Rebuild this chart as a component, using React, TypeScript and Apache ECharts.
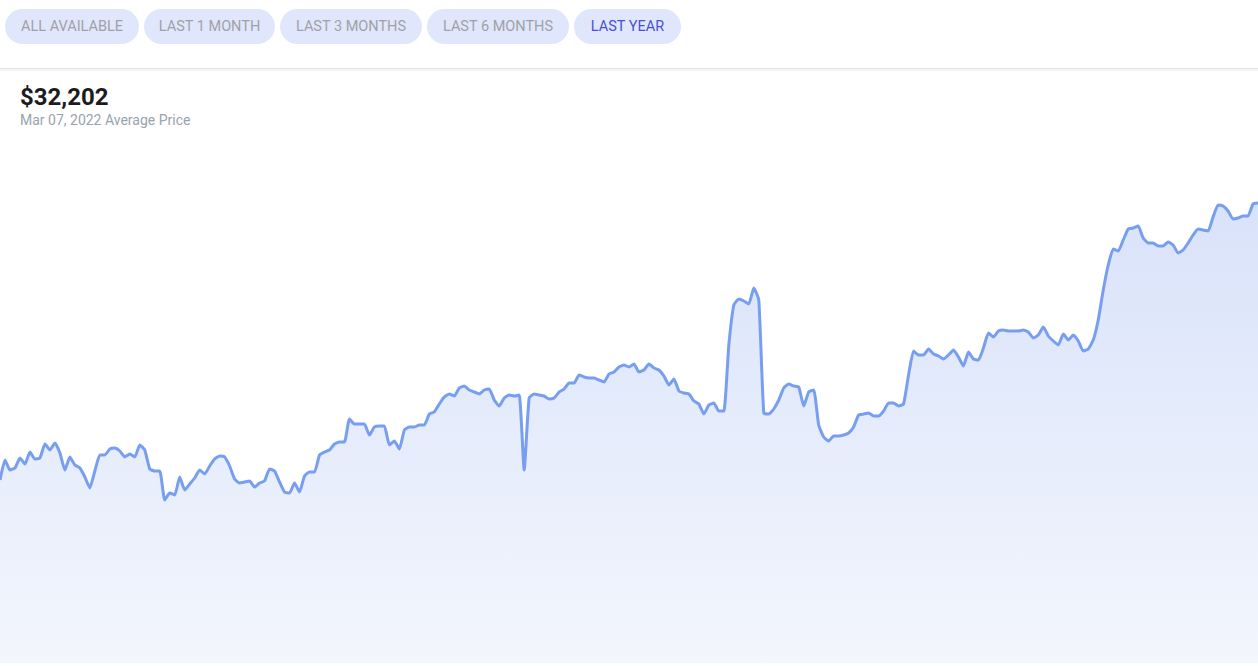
import React, { useEffect, useRef } from "react";
import * as echarts from "echarts";

// Average price, last year (sampled roughly every 1.44 days), ending Mar 07, 2022
const prices: number[] = [
  12820, 14220, 13520, 13660, 14360, 13940, 14780, 14290, 14360, 15340,
  14920, 15410, 14710, 13520, 14430, 13870, 13660, 13030, 12260, 13450,
  14570, 14570, 14990, 15060, 14850, 14430, 14640, 14430, 15270, 14920,
  13590, 13450, 13450, 11420, 11910, 11770, 13030, 12120, 12540, 12960,
  13520, 13240, 13800, 14290, 14500, 14430, 13800, 12890, 12610, 12680,
  12750, 12330, 12610, 12750, 13590, 13450, 12680, 11980, 11910, 12610,
  11980, 13100, 13380, 13380, 14570, 14780, 14920, 15340, 15480, 15480,
  17090, 16740, 16740, 16740, 15970, 16530, 16600, 16600, 15270, 15550,
  14990, 16320, 16530, 16530, 16670, 16670, 17440, 17580, 18140, 18630,
  18840, 18700, 19260, 19400, 19120, 18980, 18840, 19120, 19190, 18420,
  18000, 18560, 18770, 18700, 18770, 13520, 18560, 18840, 18770, 18700,
  18490, 18560, 18980, 19190, 19610, 19610, 20170, 20030, 19960, 19960,
  19820, 19680, 20240, 20380, 20730, 20870, 20730, 20940, 20380, 20520,
  20940, 20660, 20520, 20100, 19470, 19890, 19050, 18910, 18840, 18350,
  18140, 17440, 18070, 18210, 17650, 17650, 22270, 25070, 25490, 25350,
  25140, 26260, 25420, 17510, 17440, 17790, 18420, 19260, 19540, 19400,
  19330, 18000, 18980, 19120, 16670, 15830, 15550, 15900, 15900, 15970,
  16110, 16530, 17370, 17440, 17510, 17300, 17300, 17650, 18210, 18210,
  18000, 18140, 20170, 21850, 21570, 21570, 21990, 21640, 21500, 21290,
  21570, 21920, 21430, 20800, 21780, 21290, 21220, 22060, 23110, 22830,
  23250, 23320, 23250, 23250, 23250, 23320, 23180, 22760, 22970, 23530,
  22900, 22550, 22270, 23040, 22620, 22970, 22550, 21850, 21990, 22620,
  24020, 26120, 27870, 28990, 28850, 29620, 30390, 30460, 30600, 29760,
  29410, 29410, 29200, 29200, 29480, 29270, 28710, 28920, 29410, 29970,
  30390, 30320, 30250, 31230, 32070, 32000, 31650, 31090, 31160, 31300,
  31300, 32140, 32202,
];

const categories: string[] = prices.map((_, i) => String(i + 1));

const rangeButtons: string[] = [
  "ALL AVAILABLE",
  "LAST 1 MONTH",
  "LAST 3 MONTHS",
  "LAST 6 MONTHS",
  "LAST YEAR",
];
const activeButton = "LAST YEAR";
const headlinePrice = "$32,202";
const headlineCaption = "Mar 07, 2022 Average Price";

const buttonBoxes = [
  { x: 5, w: 134 },
  { x: 144, w: 131 },
  { x: 280, w: 142 },
  { x: 427, w: 142 },
  { x: 574, w: 107 },
];

export default function App() {
  const ref = useRef<HTMLDivElement>(null);

  useEffect(() => {
    if (!ref.current) return;
    const chart = echarts.init(ref.current, undefined, { renderer: "svg" });

    const graphics: any[] = [];
    rangeButtons.forEach((label, i) => {
      const b = buttonBoxes[i];
      graphics.push({
        type: "group",
        left: b.x,
        top: 9,
        children: [
          {
            type: "rect",
            shape: { x: 0, y: 0, width: b.w, height: 35, r: 17.5 },
            style: { fill: "#e0e7fc" },
          },
          {
            type: "text",
            x: b.w / 2,
            y: 17,
            style: {
              text: label,
              fill: label === activeButton ? "#4a4fd8" : "#a0a0a8",
              font: "400 14.5px Roboto, 'Noto Sans', sans-serif",
              align: "center",
              verticalAlign: "middle",
            },
          },
        ],
      });
    });
    graphics.push({
      type: "rect",
      left: 0,
      top: 68,
      shape: { x: 0, y: 0, width: 1258, height: 1 },
      style: { fill: "#e2e2e2" },
    });
    graphics.push({
      type: "rect",
      left: 0,
      top: 69,
      shape: { x: 0, y: 0, width: 1258, height: 2 },
      style: { fill: "#f3f3f3" },
    });
    graphics.push({
      type: "text",
      left: 20,
      top: 85,
      style: {
        text: headlinePrice,
        fill: "#1c1c1e",
        font: "700 24px Roboto, 'Noto Sans', sans-serif",
      },
    });
    graphics.push({
      type: "text",
      left: 20,
      top: 113,
      style: {
        text: headlineCaption,
        fill: "#98a3ae",
        font: "400 14px Roboto, 'Noto Sans', sans-serif",
      },
    });

    chart.setOption({
      animation: false,
      backgroundColor: "#ffffff",
      grid: { left: 0, right: 0, top: 66, bottom: 0 },
      xAxis: {
        type: "category",
        data: categories,
        boundaryGap: false,
        show: false,
      },
      yAxis: {
        type: "value",
        min: -200,
        max: 41800,
        show: false,
      },
      graphic: graphics,
      series: [
        {
          type: "line",
          data: prices,
          symbol: "none",
          smooth: 0.15,
          lineStyle: { color: "#779ef0", width: 3 },
          itemStyle: { color: "#779ef0" },
          areaStyle: {
            color: new echarts.graphic.LinearGradient(0, 0, 0, 1, [
              { offset: 0, color: "#c8d6f7" },
              { offset: 1, color: "#eef2fc" },
            ]),
          },
        },
      ],
    });

    return () => chart.dispose();
  }, []);

  return (
    <div
      ref={ref}
      style={{
        position: "fixed",
        left: 0,
        top: 0,
        width: 1258,
        height: 666,
        background: "#ffffff",
      }}
    />
  );
}
